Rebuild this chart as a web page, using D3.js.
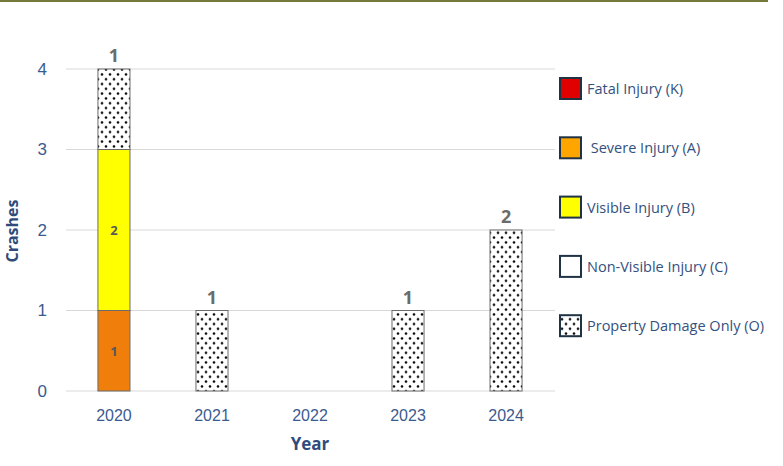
<!DOCTYPE html>
<html><head><meta charset="utf-8">
<script src="https://cdn.jsdelivr.net/npm/d3@7"></script>
<style>
body{margin:0;background:#fff;}
svg{display:block;font-family:"Open Sans","Noto Sans",sans-serif;}
</style></head>
<body><div id="chart"></div>
<script>
const years = ["2020","2021","2022","2023","2024"];
const fatalK = [0,0,0,0,0];
const severeA = [1,0,0,0,0];
const visibleB = [2,0,0,0,0];
const nonVisibleC = [0,0,0,0,0];
const propertyO = [1,1,0,1,2];
const yTicks = [0,1,2,3,4];
const seriesNames = ["Fatal Injury (K)"," Severe Injury (A)","Visible Injury (B)","Non-Visible Injury (C)","Property Damage Only (O)"];

const W=783,H=466;
const svg=d3.select("#chart").append("svg").attr("width",W).attr("height",H);
const defs=svg.append("defs");
const pat=defs.append("pattern").attr("id","dots").attr("patternUnits","userSpaceOnUse")
  .attr("width",8).attr("height",9.6);
pat.append("rect").attr("width",8).attr("height",9.6).attr("fill","#fff");
pat.append("circle").attr("cx",2).attr("cy",2.4).attr("r",1.3).attr("fill","#000");
pat.append("circle").attr("cx",6).attr("cy",7.2).attr("r",1.3).attr("fill","#000");

// top border
svg.append("rect").attr("x",0).attr("y",0).attr("width",768).attr("height",2).attr("fill","#737a3a");

const x=d3.scaleBand().domain(years).range([65,555]).paddingInner(0.673).paddingOuter(0.336);
const y=d3.scaleLinear().domain([0,4]).range([391,69]);

// gridlines
svg.append("g").selectAll("line").data(yTicks).join("line")
  .attr("x1",66).attr("x2",555).attr("y1",d=>y(d)).attr("y2",d=>y(d))
  .attr("stroke","#d9d9d9").attr("stroke-width",1);

const yAxis=svg.append("g").attr("transform","translate(66,0)")
  .call(d3.axisLeft(y).tickValues(yTicks).tickFormat(d3.format("d")).tickSize(0).tickPadding(19));
yAxis.select(".domain").remove();
yAxis.selectAll("text").attr("fill","#3b5b8f").style("font-size","17px");

const xAxis=svg.append("g").attr("transform","translate(0,391)")
  .call(d3.axisBottom(x).tickSize(0).tickPadding(19));
xAxis.select(".domain").remove();
xAxis.selectAll("text").attr("fill","#3b5b8f").style("font-size","16px");

svg.append("text").attr("x",310).attr("y",450).attr("text-anchor","middle")
  .attr("fill","#2f4b7c").style("font-size","17px").style("font-weight","bold").text("Year");
svg.append("text").attr("transform","translate(18,231) rotate(-90)").attr("text-anchor","middle")
  .attr("fill","#2f4b7c").style("font-size","16px").style("font-weight","bold").text("Crashes");

const series=[
 {name:seriesNames[0],vals:fatalK,fill:"#e00000",legend:"#e00000"},
 {name:seriesNames[1],vals:severeA,fill:"#f07e0a",legend:"#ffa500"},
 {name:seriesNames[2],vals:visibleB,fill:"#ffff00",legend:"#ffff00"},
 {name:seriesNames[3],vals:nonVisibleC,fill:"#ffffff",legend:"#ffffff"},
 {name:seriesNames[4],vals:propertyO,fill:"url(#dots)",legend:"url(#dots)"}
];
const stack=d3.stack().keys(d3.range(series.length)).value((d,k)=>series[k].vals[d])(d3.range(years.length));

stack.forEach((layer,k)=>{
  const g=svg.append("g");
  layer.forEach((seg,i)=>{
    if(seg[1]-seg[0]<=0) return;
    g.append("rect").attr("x",x(years[i])).attr("width",x.bandwidth())
      .attr("y",y(seg[1])).attr("height",y(seg[0])-y(seg[1]))
      .attr("fill",series[k].fill).attr("stroke","#6b6b6b").attr("stroke-width",1);
    const v=seg[1]-seg[0];
    if(k===4){
      svg.append("text").attr("x",x(years[i])+x.bandwidth()/2).attr("y",y(seg[1])-7)
        .attr("text-anchor","middle").attr("fill","#6b6b6b").style("font-size","18px").style("font-weight","bold").text(v);
    } else {
      svg.append("text").attr("x",x(years[i])+x.bandwidth()/2).attr("y",(y(seg[0])+y(seg[1]))/2+5)
        .attr("text-anchor","middle").attr("fill","#595959").style("font-size","13px").style("font-weight","bold").text(v);
    }
  });
});

// legend
const lg=svg.append("g");
series.forEach((s,k)=>{
  const cy=89+k*59.3;
  lg.append("rect").attr("x",560).attr("y",cy-11).attr("width",21).attr("height",21)
    .attr("fill",s.legend).attr("stroke","#1f3345").attr("stroke-width",2);
  lg.append("text").attr("x",587).attr("y",cy+5).attr("fill","#34507d").style("font-size","14.5px")
    .attr("xml:space","preserve").style("white-space","pre").text(s.name);
});
</script></body></html>
